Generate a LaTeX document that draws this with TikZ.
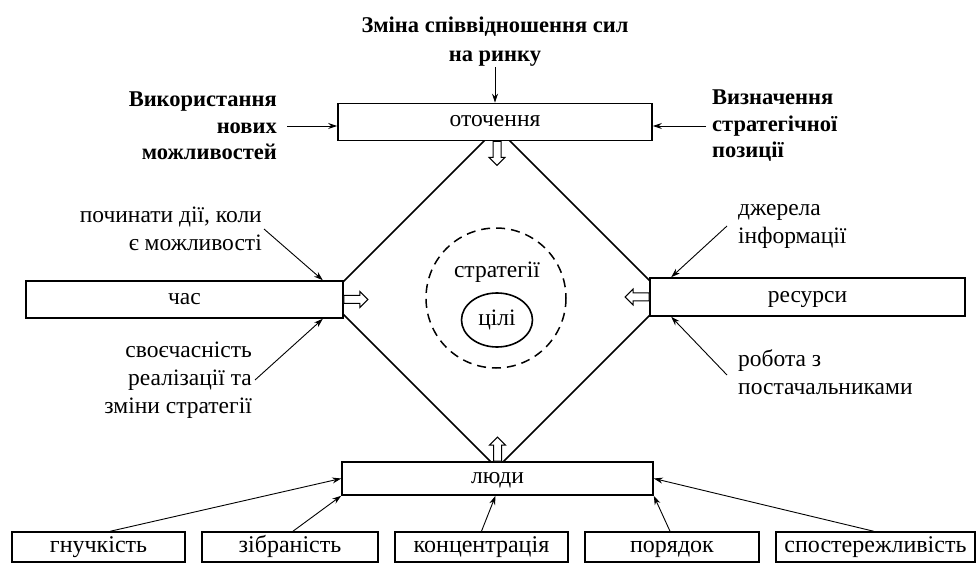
\documentclass[tikz,border=0pt]{standalone}
\usepackage{fontspec}
\setmainfont{Liberation Serif}
\usetikzlibrary{arrows.meta,shapes.geometric}
\begin{document}
\begin{tikzpicture}[x=1pt,y=-1pt,
  box/.style={draw,line width=1.6pt,fill=white,inner sep=0pt,text height=15pt,text depth=5pt,
              font=\fontsize{23.5}{28}\selectfont},
  lbl/.style={inner sep=0pt,font=\fontsize{23.5}{28}\selectfont},
  blbl/.style={inner sep=0pt,font=\bfseries\fontsize{22.5}{26.5}\selectfont},
  feed/.style={line width=0.9pt,-{Stealth[length=9pt,width=6pt]}},
  hollowarrow/.pic={\draw[fill=white,line width=1pt]
     (0,-4) -- (16,-4) -- (16,-8) -- (24,0) -- (16,8) -- (16,4) -- (0,4) -- cycle;}]
\useasboundingbox (0,0) rectangle (978,564);

% the diamond joining the four areas
\draw[line width=1.6pt] (497,128) -- (327,298) -- (497,468) -- (667,298) -- cycle;

% strategy and goals in the centre
\draw[line width=1.5pt,dash pattern=on 9pt off 6pt] (496,298) circle[radius=70];
\node[lbl] (strat) at (497,272) {стратегії};
\node[draw,ellipse,line width=1.6pt,minimum width=71pt,minimum height=54pt,inner sep=0pt,
      font=\fontsize{23.5}{28}\selectfont] (goals) at (497,320) {цілі};

% the four areas
\node[box,minimum width=314pt,minimum height=37pt] (env) at (495,122) {оточення};
\node[box,minimum width=317pt,minimum height=37pt] (time) at (184.5,299.5) {час};
\node[box,minimum width=315pt,minimum height=38pt] (res) at (807.5,297) {ресурси};
\node[box,minimum width=311pt,minimum height=33pt] (people) at (497.5,478.5) {люди};

% hollow arrows into the diamond
\pic[rotate=-90] at ([xshift=2pt]env.south) {hollowarrow};
\pic at (time.east) {hollowarrow};
\pic[rotate=180] at (res.west) {hollowarrow};
\pic[rotate=90] at (people.north) {hollowarrow};

% influences on the environment
\node[blbl,align=center,font=\bfseries\fontsize{22.5}{29}\selectfont] (shift) at (495,42) {Зміна співвідношення сил\\на ринку};
\node[blbl,align=right,anchor=east] (use) at (277,126) {Використання\\нових\\можливостей};
\node[blbl,align=left,anchor=west] (pos) at (712,126) {Визначення\\стратегічної\\позиції};
\draw[feed] (shift.south -| env.north) -- (env.north);
\draw[feed] ([xshift=10pt]use.east) -- (env.west |- use.east);
\draw[feed] ([xshift=-6pt]pos.west) -- (env.east |- pos.east);

% influences on time
\node[lbl,align=right,anchor=east] (act) at (262,229) {починати дії, коли\\є можливості};
\node[lbl,align=right,anchor=east] (timely) at (252,380) {своєчасність\\реалізації та\\зміни стратегії};
\draw[feed] ([xshift=2pt]act.east) -- ([xshift=-21pt]time.north east);
\draw[feed] ([xshift=3pt]timely.east) -- ([xshift=-21pt]time.south east);

% influences on resources
\node[lbl,align=left,anchor=west] (info) at (738,226) {джерела\\інформації};
\node[lbl,align=left,anchor=west] (supp) at (738,372) {робота з\\постачальниками};
\draw[feed] ([xshift=-11pt]info.west) -- ([xshift=22pt]res.north west);
\draw[feed] ([xshift=-11pt,yshift=-3pt]supp.west) -- ([xshift=22pt]res.south west);

% qualities of people
\tikzset{quality/.style={box,minimum height=30pt,text height=15pt,text depth=5pt,font=\fontsize{24}{28}\selectfont}}
\node[quality,minimum width=173pt] (b1) at (98.5,547) {гнучкість};
\node[quality,minimum width=176pt] (b2) at (290,547) {зібраність};
\node[quality,minimum width=173pt] (b3) at (481.5,547) {концентрація};
\node[quality,minimum width=174pt] (b4) at (672,547) {порядок};
\node[quality,minimum width=199pt] (b5) at (875.5,547) {спостережливість};
\draw[feed] ([xshift=12pt]b1.north) -- (people.west);
\draw[feed] ([xshift=3pt]b2.north) -- (people.south west);
\draw[feed] (b3.north) -- ([xshift=-2pt]people.south);
\draw[feed] ([xshift=-2pt]b4.north) -- (people.south east);
\draw[feed] ([xshift=-2pt]b5.north) -- (people.east);
\end{tikzpicture}
\end{document}
